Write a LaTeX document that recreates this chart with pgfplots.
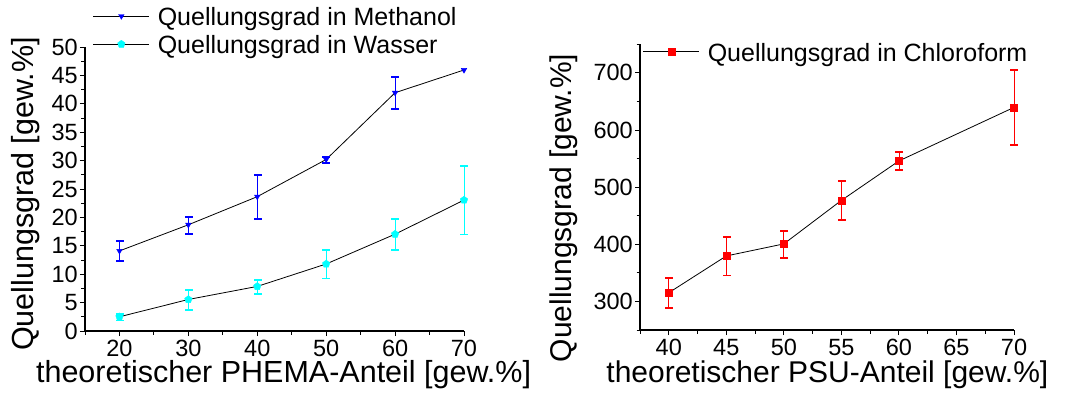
\documentclass[border=0pt]{standalone}
\usepackage{fontspec}
\setmainfont{Liberation Sans}
\usepackage{pgfplots}
\pgfplotsset{compat=1.18}
\definecolor{mblue}{RGB}{0,0,255}
\definecolor{mcyan}{RGB}{0,255,255}
\definecolor{mred}{RGB}{255,0,0}
\pgfplotsset{
 common/.style={
  scale only axis,
  axis x line*=bottom, axis y line*=left,
  axis line style={line width=1.3pt, black},
  tick align=outside,
  major tick length=5pt, minor tick length=3.5pt,
  tick style={black, line width=0.9pt},
  /pgf/number format/assume math mode=true,
  tick label style={font=\fontsize{23.5}{28}\selectfont},
  label style={font=\fontsize{30.5}{36}\selectfont, inner sep=0pt},
  xticklabel style={inner sep=0pt, yshift=-4pt},
  yticklabel style={inner sep=0pt, xshift=-2pt},
  legend cell align=left,
  legend image code/.code={\draw[black, line width=0.8pt] (0pt,9.5pt) -- (56pt,9.5pt);
     \draw[##1] plot coordinates {(28pt,9.5pt)};},
  legend style={draw=none, fill=none, inner sep=0pt, outer sep=0pt, row sep=8.4pt,
    font=\fontsize{25}{30}\selectfont,
    nodes={inner sep=0pt, anchor=base west},
    /tikz/every odd column/.append style={column sep=8pt}},
  clip=false,
 },
 conn/.style={black, line width=0.8pt, no marks, forget plot},
 caps/.style={color=#1, only marks, mark=square*, mark size=3.5pt,
   mark options={yscale=0.13, draw=none, fill=#1}, forget plot},
 pts/.style={color=#1, only marks, error bars/.cd, y dir=both, y explicit,
   draw error bar/.code 2 args={\draw[draw=#1, line width=0.8pt] ##1 -- ##2;}},
}
\begin{document}
\begin{tikzpicture}
\useasboundingbox (0,0) rectangle (1066pt,394pt);
\begin{axis}[common, at={(85pt,63pt)}, anchor=south west, width=379pt, height=284pt,
  xmin=15, xmax=70, ymin=0, ymax=50,
  xtick={20,30,...,70}, minor xtick={15,25,...,65},
  ytick={0,5,...,50}, minor ytick={2.5,7.5,...,47.5},
  xlabel={theoretischer PHEMA-Anteil [gew.\%]},
  ylabel={Quellungsgrad [gew.\%]},
  xlabel style={at={(axis description cs:0.524,-0.183)}, anchor=base},
  ylabel style={at={(axis description cs:-0.119,0.482)}, anchor=south},
  legend style={at={(axis description cs:0.021,1.139)}, anchor=north west}]
\addplot[conn] coordinates {(20,14.1) (30,18.7) (40,23.65) (50,30.2) (60,41.95) (70,45.95)};
\addplot[conn] coordinates {(20,2.5) (30,5.55) (40,7.85) (50,11.8) (60,17.05) (70,23.05)};
\addplot[caps=mblue] coordinates {(20,15.85) (20,12.35) (30,20.2) (30,17.2) (40,27.45) (40,19.85)
  (50,30.7) (50,29.7) (60,44.8) (60,39.1)};
\addplot[caps=mcyan] coordinates {(20,3.1) (20,1.9) (30,7.3) (30,3.8) (40,9.1) (40,6.6)
  (50,14.3) (50,9.3) (60,19.85) (60,14.25) (70,29.05) (70,17.05)};
\addplot[mark=triangle*, mark size=3.2pt, mark options={rotate=180, line width=0.4pt}, pts=mblue]
  coordinates {(20,14.1) +- (0,1.75) (30,18.7) +- (0,1.5) (40,23.65) +- (0,3.8)
   (50,30.2) +- (0,0.5) (60,41.95) +- (0,2.85) (70,45.95) +- (0,0)};
\addlegendentry{Quellungsgrad in Methanol}
\addplot[mark=pentagon*, mark size=3.9pt, mark options={line width=0.4pt}, pts=mcyan]
  coordinates {(20,2.5) +- (0,0.6) (30,5.55) +- (0,1.75) (40,7.85) +- (0,1.25)
   (50,11.8) +- (0,2.5) (60,17.05) +- (0,2.8) (70,23.05) +- (0,6.0)};
\addlegendentry{Quellungsgrad in Wasser}
\end{axis}
\begin{axis}[common, at={(640pt,64pt)}, anchor=south west, width=374pt, height=285.7pt,
  xmin=37.5, xmax=70, ymin=250, ymax=750,
  xtick={40,45,...,70}, minor xtick={37.5,42.5,...,67.5},
  ytick={300,400,...,700}, minor ytick={250,350,...,750},
  label style={font=\fontsize{30}{36}\selectfont},
  xlabel={theoretischer PSU-Anteil [gew.\%]},
  ylabel={Quellungsgrad [gew.\%]},
  xlabel style={at={(axis description cs:0.501,-0.1855)}, anchor=base},
  ylabel style={at={(axis description cs:-0.166,0.427)}, anchor=south},
  legend style={at={(axis description cs:0.008,1.0045)}, anchor=north west}]
\addplot[conn] coordinates {(40,315.2) (45,379.6) (50,400.7) (55,476.8) (60,545.9) (70,639.6)};
\addplot[caps=mred] coordinates {(40,341.5) (40,288.9) (45,413.3) (45,345.9) (50,424.4) (50,377.0)
  (55,510.8) (55,442.8) (60,561.7) (60,530.1) (70,704.9) (70,574.3)};
\addplot[mark=square*, mark size=3.5pt, mark options={line width=0.4pt}, pts=mred]
  coordinates {(40,315.2) +- (0,26.3) (45,379.6) +- (0,33.7) (50,400.7) +- (0,23.7)
   (55,476.8) +- (0,34) (60,545.9) +- (0,15.8) (70,639.6) +- (0,65.3)};
\addlegendentry{Quellungsgrad in Chloroform}
\end{axis}
\end{tikzpicture}
\end{document}
